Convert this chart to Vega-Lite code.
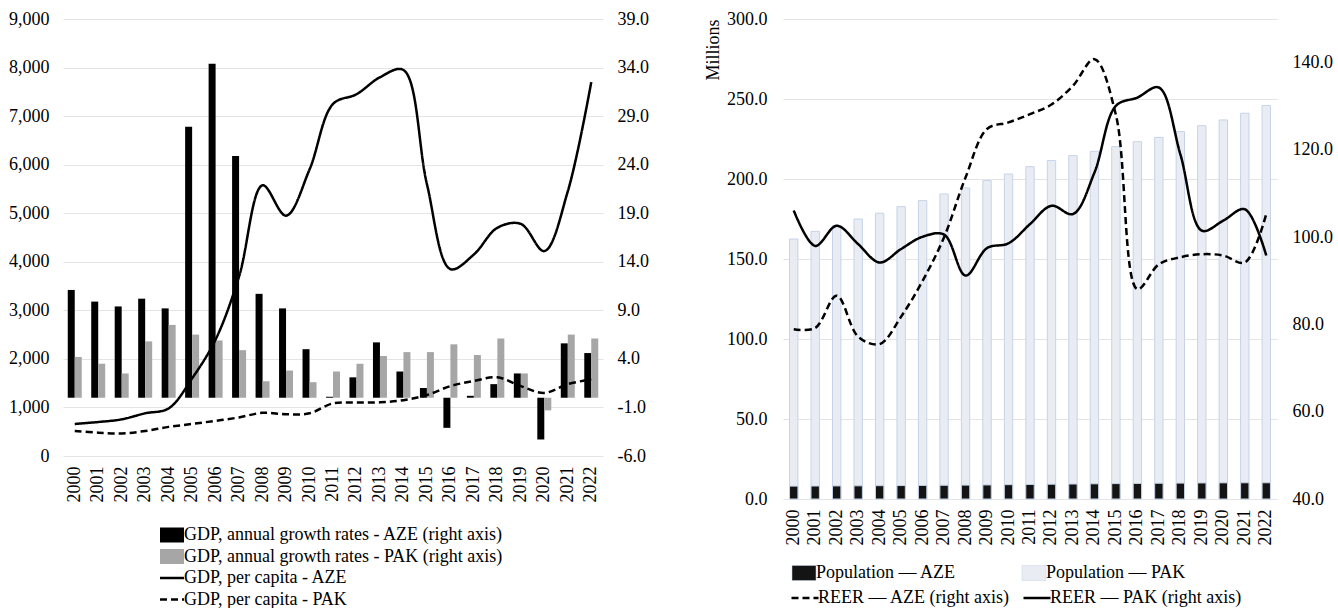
{
  "$schema": "https://vega.github.io/schema/vega-lite/v6.json",
  "padding": {"left": 8, "top": 10, "right": 2, "bottom": 0},
  "background": "white",
  "spacing": 55,
  "resolve": {"scale": {"x": "independent", "y": "independent", "color": "independent", "strokeDash": "independent"}, "legend": {"color": "independent", "strokeDash": "independent"}},
  "datasets": {
    "growth": [
      {"year":"2000","series":"GDP, annual growth rates - AZE (right axis)","value":11.1},
      {"year":"2001","series":"GDP, annual growth rates - AZE (right axis)","value":9.9},
      {"year":"2002","series":"GDP, annual growth rates - AZE (right axis)","value":9.4},
      {"year":"2003","series":"GDP, annual growth rates - AZE (right axis)","value":10.2},
      {"year":"2004","series":"GDP, annual growth rates - AZE (right axis)","value":9.2},
      {"year":"2005","series":"GDP, annual growth rates - AZE (right axis)","value":27.9},
      {"year":"2006","series":"GDP, annual growth rates - AZE (right axis)","value":34.4},
      {"year":"2007","series":"GDP, annual growth rates - AZE (right axis)","value":24.9},
      {"year":"2008","series":"GDP, annual growth rates - AZE (right axis)","value":10.7},
      {"year":"2009","series":"GDP, annual growth rates - AZE (right axis)","value":9.2},
      {"year":"2010","series":"GDP, annual growth rates - AZE (right axis)","value":5.0},
      {"year":"2011","series":"GDP, annual growth rates - AZE (right axis)","value":0.1},
      {"year":"2012","series":"GDP, annual growth rates - AZE (right axis)","value":2.1},
      {"year":"2013","series":"GDP, annual growth rates - AZE (right axis)","value":5.7},
      {"year":"2014","series":"GDP, annual growth rates - AZE (right axis)","value":2.7},
      {"year":"2015","series":"GDP, annual growth rates - AZE (right axis)","value":1.0},
      {"year":"2016","series":"GDP, annual growth rates - AZE (right axis)","value":-3.1},
      {"year":"2017","series":"GDP, annual growth rates - AZE (right axis)","value":0.2},
      {"year":"2018","series":"GDP, annual growth rates - AZE (right axis)","value":1.4},
      {"year":"2019","series":"GDP, annual growth rates - AZE (right axis)","value":2.5},
      {"year":"2020","series":"GDP, annual growth rates - AZE (right axis)","value":-4.3},
      {"year":"2021","series":"GDP, annual growth rates - AZE (right axis)","value":5.6},
      {"year":"2022","series":"GDP, annual growth rates - AZE (right axis)","value":4.6},
      {"year":"2000","series":"GDP, annual growth rates - PAK (right axis)","value":4.2},
      {"year":"2001","series":"GDP, annual growth rates - PAK (right axis)","value":3.5},
      {"year":"2002","series":"GDP, annual growth rates - PAK (right axis)","value":2.5},
      {"year":"2003","series":"GDP, annual growth rates - PAK (right axis)","value":5.8},
      {"year":"2004","series":"GDP, annual growth rates - PAK (right axis)","value":7.5},
      {"year":"2005","series":"GDP, annual growth rates - PAK (right axis)","value":6.5},
      {"year":"2006","series":"GDP, annual growth rates - PAK (right axis)","value":5.9},
      {"year":"2007","series":"GDP, annual growth rates - PAK (right axis)","value":4.9},
      {"year":"2008","series":"GDP, annual growth rates - PAK (right axis)","value":1.7},
      {"year":"2009","series":"GDP, annual growth rates - PAK (right axis)","value":2.8},
      {"year":"2010","series":"GDP, annual growth rates - PAK (right axis)","value":1.6},
      {"year":"2011","series":"GDP, annual growth rates - PAK (right axis)","value":2.7},
      {"year":"2012","series":"GDP, annual growth rates - PAK (right axis)","value":3.5},
      {"year":"2013","series":"GDP, annual growth rates - PAK (right axis)","value":4.3},
      {"year":"2014","series":"GDP, annual growth rates - PAK (right axis)","value":4.7},
      {"year":"2015","series":"GDP, annual growth rates - PAK (right axis)","value":4.7},
      {"year":"2016","series":"GDP, annual growth rates - PAK (right axis)","value":5.5},
      {"year":"2017","series":"GDP, annual growth rates - PAK (right axis)","value":4.4},
      {"year":"2018","series":"GDP, annual growth rates - PAK (right axis)","value":6.1},
      {"year":"2019","series":"GDP, annual growth rates - PAK (right axis)","value":2.5},
      {"year":"2020","series":"GDP, annual growth rates - PAK (right axis)","value":-1.3},
      {"year":"2021","series":"GDP, annual growth rates - PAK (right axis)","value":6.5},
      {"year":"2022","series":"GDP, annual growth rates - PAK (right axis)","value":6.1}
    ],
    "gdppc": [
      {"year":"2000","series":"GDP, per capita - AZE","value":660},
      {"year":"2001","series":"GDP, per capita - AZE","value":700},
      {"year":"2002","series":"GDP, per capita - AZE","value":755},
      {"year":"2003","series":"GDP, per capita - AZE","value":880},
      {"year":"2004","series":"GDP, per capita - AZE","value":980},
      {"year":"2005","series":"GDP, per capita - AZE","value":1600},
      {"year":"2006","series":"GDP, per capita - AZE","value":2400},
      {"year":"2007","series":"GDP, per capita - AZE","value":3700},
      {"year":"2008","series":"GDP, per capita - AZE","value":5575},
      {"year":"2009","series":"GDP, per capita - AZE","value":4950},
      {"year":"2010","series":"GDP, per capita - AZE","value":5900},
      {"year":"2011","series":"GDP, per capita - AZE","value":7250},
      {"year":"2012","series":"GDP, per capita - AZE","value":7450},
      {"year":"2013","series":"GDP, per capita - AZE","value":7800},
      {"year":"2014","series":"GDP, per capita - AZE","value":7950},
      {"year":"2015","series":"GDP, per capita - AZE","value":5600},
      {"year":"2016","series":"GDP, per capita - AZE","value":3850},
      {"year":"2017","series":"GDP, per capita - AZE","value":4150},
      {"year":"2018","series":"GDP, per capita - AZE","value":4700},
      {"year":"2019","series":"GDP, per capita - AZE","value":4780},
      {"year":"2020","series":"GDP, per capita - AZE","value":4220},
      {"year":"2021","series":"GDP, per capita - AZE","value":5450},
      {"year":"2022","series":"GDP, per capita - AZE","value":7700},
      {"year":"2000","series":"GDP, per capita - PAK","value":515},
      {"year":"2001","series":"GDP, per capita - PAK","value":480},
      {"year":"2002","series":"GDP, per capita - PAK","value":465},
      {"year":"2003","series":"GDP, per capita - PAK","value":515},
      {"year":"2004","series":"GDP, per capita - PAK","value":600},
      {"year":"2005","series":"GDP, per capita - PAK","value":660},
      {"year":"2006","series":"GDP, per capita - PAK","value":725},
      {"year":"2007","series":"GDP, per capita - PAK","value":795},
      {"year":"2008","series":"GDP, per capita - PAK","value":890},
      {"year":"2009","series":"GDP, per capita - PAK","value":860},
      {"year":"2010","series":"GDP, per capita - PAK","value":880},
      {"year":"2011","series":"GDP, per capita - PAK","value":1085},
      {"year":"2012","series":"GDP, per capita - PAK","value":1100},
      {"year":"2013","series":"GDP, per capita - PAK","value":1105},
      {"year":"2014","series":"GDP, per capita - PAK","value":1150},
      {"year":"2015","series":"GDP, per capita - PAK","value":1255},
      {"year":"2016","series":"GDP, per capita - PAK","value":1440},
      {"year":"2017","series":"GDP, per capita - PAK","value":1545},
      {"year":"2018","series":"GDP, per capita - PAK","value":1620},
      {"year":"2019","series":"GDP, per capita - PAK","value":1440},
      {"year":"2020","series":"GDP, per capita - PAK","value":1300},
      {"year":"2021","series":"GDP, per capita - PAK","value":1480},
      {"year":"2022","series":"GDP, per capita - PAK","value":1580}
    ],
    "pop": [
      {"year":"2000","series":"Population — PAK","value":162.5},
      {"year":"2001","series":"Population — PAK","value":167.3},
      {"year":"2002","series":"Population — PAK","value":171.0},
      {"year":"2003","series":"Population — PAK","value":175.0},
      {"year":"2004","series":"Population — PAK","value":178.6},
      {"year":"2005","series":"Population — PAK","value":182.7},
      {"year":"2006","series":"Population — PAK","value":186.5},
      {"year":"2007","series":"Population — PAK","value":190.6},
      {"year":"2008","series":"Population — PAK","value":194.4},
      {"year":"2009","series":"Population — PAK","value":199.0},
      {"year":"2010","series":"Population — PAK","value":203.1},
      {"year":"2011","series":"Population — PAK","value":207.7},
      {"year":"2012","series":"Population — PAK","value":211.5},
      {"year":"2013","series":"Population — PAK","value":214.6},
      {"year":"2014","series":"Population — PAK","value":217.3},
      {"year":"2015","series":"Population — PAK","value":220.2},
      {"year":"2016","series":"Population — PAK","value":223.3},
      {"year":"2017","series":"Population — PAK","value":226.0},
      {"year":"2018","series":"Population — PAK","value":229.6},
      {"year":"2019","series":"Population — PAK","value":233.3},
      {"year":"2020","series":"Population — PAK","value":236.9},
      {"year":"2021","series":"Population — PAK","value":241.1},
      {"year":"2022","series":"Population — PAK","value":245.9},
      {"year":"2000","series":"Population — AZE","value":8.05},
      {"year":"2001","series":"Population — AZE","value":8.11},
      {"year":"2002","series":"Population — AZE","value":8.17},
      {"year":"2003","series":"Population — AZE","value":8.23},
      {"year":"2004","series":"Population — AZE","value":8.31},
      {"year":"2005","series":"Population — AZE","value":8.39},
      {"year":"2006","series":"Population — AZE","value":8.48},
      {"year":"2007","series":"Population — AZE","value":8.58},
      {"year":"2008","series":"Population — AZE","value":8.68},
      {"year":"2009","series":"Population — AZE","value":8.78},
      {"year":"2010","series":"Population — AZE","value":8.95},
      {"year":"2011","series":"Population — AZE","value":9.10},
      {"year":"2012","series":"Population — AZE","value":9.23},
      {"year":"2013","series":"Population — AZE","value":9.36},
      {"year":"2014","series":"Population — AZE","value":9.49},
      {"year":"2015","series":"Population — AZE","value":9.61},
      {"year":"2016","series":"Population — AZE","value":9.73},
      {"year":"2017","series":"Population — AZE","value":9.85},
      {"year":"2018","series":"Population — AZE","value":9.94},
      {"year":"2019","series":"Population — AZE","value":10.02},
      {"year":"2020","series":"Population — AZE","value":10.09},
      {"year":"2021","series":"Population — AZE","value":10.14},
      {"year":"2022","series":"Population — AZE","value":10.14}
    ],
    "reer": [
      {"year":"2000","series":"REER — AZE (right axis)","value":78.9},
      {"year":"2001","series":"REER — AZE (right axis)","value":79.2},
      {"year":"2002","series":"REER — AZE (right axis)","value":86.6},
      {"year":"2003","series":"REER — AZE (right axis)","value":77.2},
      {"year":"2004","series":"REER — AZE (right axis)","value":75.5},
      {"year":"2005","series":"REER — AZE (right axis)","value":81.8},
      {"year":"2006","series":"REER — AZE (right axis)","value":90.0},
      {"year":"2007","series":"REER — AZE (right axis)","value":100.0},
      {"year":"2008","series":"REER — AZE (right axis)","value":113.7},
      {"year":"2009","series":"REER — AZE (right axis)","value":124.8},
      {"year":"2010","series":"REER — AZE (right axis)","value":126.3},
      {"year":"2011","series":"REER — AZE (right axis)","value":128.2},
      {"year":"2012","series":"REER — AZE (right axis)","value":130.4},
      {"year":"2013","series":"REER — AZE (right axis)","value":134.7},
      {"year":"2014","series":"REER — AZE (right axis)","value":140.8},
      {"year":"2015","series":"REER — AZE (right axis)","value":128.0},
      {"year":"2016","series":"REER — AZE (right axis)","value":88.1},
      {"year":"2017","series":"REER — AZE (right axis)","value":93.8},
      {"year":"2018","series":"REER — AZE (right axis)","value":95.4},
      {"year":"2019","series":"REER — AZE (right axis)","value":96.1},
      {"year":"2020","series":"REER — AZE (right axis)","value":95.8},
      {"year":"2021","series":"REER — AZE (right axis)","value":94.2},
      {"year":"2022","series":"REER — AZE (right axis)","value":105.3},
      {"year":"2000","series":"REER — PAK (right axis)","value":106.1},
      {"year":"2001","series":"REER — PAK (right axis)","value":98.0},
      {"year":"2002","series":"REER — PAK (right axis)","value":102.6},
      {"year":"2003","series":"REER — PAK (right axis)","value":98.4},
      {"year":"2004","series":"REER — PAK (right axis)","value":94.2},
      {"year":"2005","series":"REER — PAK (right axis)","value":97.3},
      {"year":"2006","series":"REER — PAK (right axis)","value":100.1},
      {"year":"2007","series":"REER — PAK (right axis)","value":100.6},
      {"year":"2008","series":"REER — PAK (right axis)","value":91.2},
      {"year":"2009","series":"REER — PAK (right axis)","value":97.5},
      {"year":"2010","series":"REER — PAK (right axis)","value":98.6},
      {"year":"2011","series":"REER — PAK (right axis)","value":103.0},
      {"year":"2012","series":"REER — PAK (right axis)","value":107.2},
      {"year":"2013","series":"REER — PAK (right axis)","value":105.3},
      {"year":"2014","series":"REER — PAK (right axis)","value":114.8},
      {"year":"2015","series":"REER — PAK (right axis)","value":130.1},
      {"year":"2016","series":"REER — PAK (right axis)","value":132.0},
      {"year":"2017","series":"REER — PAK (right axis)","value":134.3},
      {"year":"2018","series":"REER — PAK (right axis)","value":119.0},
      {"year":"2019","series":"REER — PAK (right axis)","value":101.5},
      {"year":"2020","series":"REER — PAK (right axis)","value":103.8},
      {"year":"2021","series":"REER — PAK (right axis)","value":106.4},
      {"year":"2022","series":"REER — PAK (right axis)","value":95.8}
    ]
  },
  "hconcat": [
    {
      "width": 540,
      "height": 437,
      "layer": [
        {
          "data": {"name": "growth"},
          "mark": {"type": "bar"},
          "encoding": {
            "x": {"field": "year", "type": "nominal", "scale": {"paddingInner": 0.404, "paddingOuter": 0.202},
                  "axis": {"title": null, "labelAngle": -90, "labelPadding": 10, "grid": false}},
            "xOffset": {"field": "series", "type": "nominal", "scale": {"paddingInner": 0, "paddingOuter": 0}},
            "y": {"field": "value", "type": "quantitative",
                  "scale": {"domain": [-6, 39], "nice": false, "zero": false},
                  "axis": {"orient": "right", "title": null, "grid": false, "values": [-6, -1, 4, 9, 14, 19, 24, 29, 34, 39], "format": ".1f", "labelExpr": "replace(datum.label, '\u2212', '-')", "labelPadding": 14}},
            "color": {"field": "series", "type": "nominal",
                      "scale": {"domain": ["GDP, annual growth rates - AZE (right axis)", "GDP, annual growth rates - PAK (right axis)"], "range": ["#000000", "#a6a6a6"]},
                      "legend": {"title": null, "orient": "none", "legendX": 100, "legendY": 507, "direction": "vertical",
                                 "symbolType": "M-1.6,-1H1.6V1H-1.6Z", "symbolSize": 225, "symbolStrokeWidth": 0, "rowPadding": 3.5, "labelOffset": 3}}
          }
        },
        {
          "data": {"name": "gdppc"},
          "mark": {"type": "line", "interpolate": "catmull-rom", "color": "#000000", "strokeWidth": 2.5},
          "encoding": {
            "x": {"field": "year", "type": "nominal"},
            "y": {"field": "value", "type": "quantitative",
                  "scale": {"domain": [0, 9000], "nice": false},
                  "axis": {"orient": "left", "title": null, "grid": true, "values": [0,1000,2000,3000,4000,5000,6000,7000,8000,9000], "format": ",d", "labelPadding": 14}},
            "strokeDash": {"field": "series", "type": "nominal",
                           "scale": {"domain": ["GDP, per capita - AZE", "GDP, per capita - PAK"], "range": [[1, 0], [7, 4]]},
                           "legend": {"title": null, "orient": "none", "legendX": 100, "legendY": 550, "direction": "vertical",
                                      "symbolType": "M-1.6,0H1.6", "symbolSize": 225, "symbolStrokeWidth": 2.5, "symbolStrokeColor": "#000", "symbolFillColor": "transparent", "rowPadding": 3.5, "labelOffset": 3}}
          }
        }
      ],
      "resolve": {"scale": {"y": "independent"}}
    },
    {
      "width": 494,
      "height": 480,
      "layer": [
        {
          "data": {"name": "pop"},
          "mark": {"type": "bar", "stroke": "#c6d3e6", "strokeWidth": 1},
          "encoding": {
            "x": {"field": "year", "type": "nominal", "scale": {"paddingInner": 0.61, "paddingOuter": 0.305},
                  "axis": {"title": null, "labelAngle": -90, "labelPadding": 10, "grid": false}},
            "y": {"field": "value", "type": "quantitative", "stack": null,
                  "scale": {"domain": [0, 300], "nice": false},
                  "axis": {"orient": "left", "title": "Millions", "titleAnchor": "end", "titlePadding": 4, "grid": true, "values": [0, 50, 100, 150, 200, 250, 300], "format": ".1f", "labelPadding": 16}},
            "color": {"field": "series", "type": "nominal",
                      "scale": {"domain": ["Population — AZE", "Population — PAK"], "range": ["#141414", "#e9edf3"]},
                      "legend": {"title": null, "orient": "none", "legendX": 12, "legendY": 545, "direction": "horizontal", "columnPadding": 65,
                                 "symbolType": "M-1.6,-1H1.6V1H-1.6Z", "symbolSize": 225, "symbolStrokeColor": "#c6d3e6", "symbolStrokeWidth": 0.5, "labelOffset": 3}}
          }
        },
        {
          "data": {"name": "reer"},
          "mark": {"type": "line", "interpolate": "catmull-rom", "color": "#000000", "strokeWidth": 2.5},
          "encoding": {
            "x": {"field": "year", "type": "nominal"},
            "y": {"field": "value", "type": "quantitative",
                  "scale": {"domain": [40, 150], "nice": false, "zero": false},
                  "axis": {"orient": "right", "title": null, "grid": false, "values": [40, 60, 80, 100, 120, 140], "format": ".1f", "labelPadding": 15}},
            "strokeDash": {"field": "series", "type": "nominal",
                           "scale": {"domain": ["REER — AZE (right axis)", "REER — PAK (right axis)"], "range": [[7, 4], [1, 0]]},
                           "legend": {"title": null, "orient": "none", "legendX": 13, "legendY": 570, "direction": "horizontal", "columnPadding": 8,
                                      "symbolType": "M-1.8,0H1.8", "symbolSize": 225, "symbolStrokeWidth": 2.5, "symbolStrokeColor": "#000", "symbolFillColor": "transparent", "labelOffset": 4}}
          }
        }
      ],
      "resolve": {"scale": {"y": "independent"}}
    }
  ],
  "config": {
    "font": "Liberation Serif",
    "view": {"stroke": null},
    "axis": {"labelFont": "Liberation Serif", "labelFontSize": 18, "labelColor": "#000000", "ticks": false, "domain": false,
             "gridColor": "#e4e4e4", "gridWidth": 1.2, "titleFont": "Liberation Serif", "titleFontSize": 18, "titleFontWeight": "normal", "titleColor": "#000000", "labelFlush": false, "labelOverlap": false},
    "legend": {"labelFont": "Liberation Serif", "labelFontSize": 18, "labelColor": "#000000", "labelLimit": 0}
  }
}
